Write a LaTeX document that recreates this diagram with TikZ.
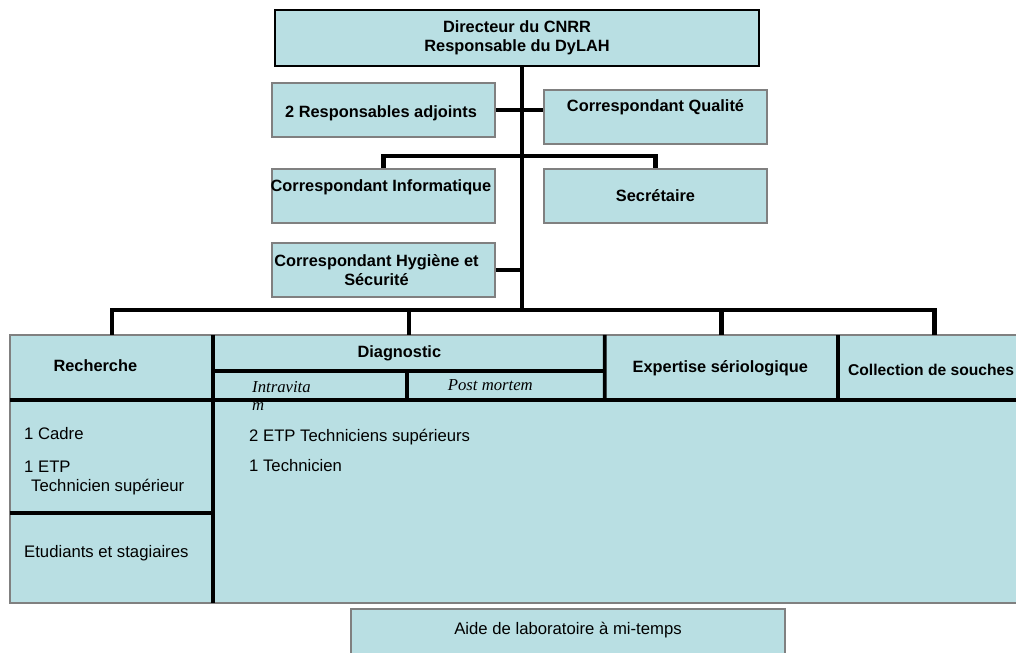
\documentclass[tikz,border=0pt]{standalone}
\usepackage{fontspec}
\setmainfont{Liberation Sans}
\newfontfamily\timesit{Liberation Serif}
\usepackage{tikz}
\usepackage{xcolor}
\usetikzlibrary{positioning,calc}
\definecolor{orgfill}{HTML}{B9DFE3}
\definecolor{orggray}{HTML}{808080}

\begin{document}
\begin{tikzpicture}[
  box/.style={draw=orggray, fill=orgfill, line width=1.1pt, minimum width=4.46cm, minimum height=1.08cm, inner sep=0pt},
  cell/.style={fill=orgfill, inner sep=0pt, anchor=north west},
  hd/.style={font=\fontsize{9.3}{10.8}\selectfont\bfseries, align=center},
  txt/.style={font=\fontsize{9.5}{11}\selectfont, align=left},
  sub/.style={font=\fontsize{9.5}{10.4}\selectfont\timesit\itshape, align=left},
  link/.style={line width=2.5pt, black},
  sep/.style={line width=2.2pt, black},
]
\useasboundingbox (0,0) rectangle (20.32,-13.06);

% director on top, trunk goes down to the bus at y=-6.2
\node[box, draw=black, minimum width=9.68cm, minimum height=1.12cm, hd] (dir) at (10.34,-0.76) {Directeur du CNRR\\Responsable du DyLAH};
\coordinate (bus) at (10.44,-6.2);

% staff boxes, left column x=7.67, right column x=13.11
\node[box] (adj)  at (7.67,-2.2)  {};
\node[box] (qual) at (13.11,-2.34) {};
\node[box] (info) at (7.67,-3.92) {};
\node[box] (secr) at (13.11,-3.92) {};
\node[box] (hyg)  at (7.67,-5.4)  {};

\node[hd, anchor=west] (adjt) at ([xshift=0.16cm,yshift=-0.06cm]adj.west) {2 Responsables adjoints};
\node[hd] (qualt) at ([yshift=0.2cm]qual.center) {Correspondant Qualit\'e};
\node[hd] (infot) at ([xshift=-0.05cm,yshift=0.18cm]info.center) {Correspondant Informatique};
\node[hd] (secrt) at (secr.center) {Secr\'etaire};
\node[hd] (hygt) at ([xshift=-0.14cm]hyg.center) {Correspondant Hygi\`ene et\\S\'ecurit\'e};

% connectors of the upper part
\draw[link] ([xshift=0.1cm]dir.south) -- (bus);
\draw[link] (adj.east) -- (adj.east -| qual.west);
\draw[link] (info.north) -- ++(0,0.24) -| (secr.north);
\draw[link] (hyg.east) -- (hyg.east -| bus);

% table of the units
\node[cell, minimum width=4.06cm, minimum height=1.3cm]  (rech)  at (0.2,-6.7)   {};
\node[cell, minimum width=7.82cm, minimum height=0.7cm]  (diag)  at (4.26,-6.7)  {};
\node[cell, minimum width=3.86cm, minimum height=0.6cm]  (intra) at (4.26,-7.4)  {};
\node[cell, minimum width=3.96cm, minimum height=0.6cm]  (post)  at (8.12,-7.4)  {};
\node[cell, minimum width=4.68cm, minimum height=1.3cm]  (expe)  at (12.08,-6.7) {};
\node[cell, minimum width=3.84cm, minimum height=1.3cm]  (coll)  at (16.76,-6.7) {};
\node[cell, minimum width=4.06cm, minimum height=2.24cm] (cad)   at (0.2,-8.0)   {};
\node[cell, minimum width=4.06cm, minimum height=1.8cm]  (etud)  at (0.2,-10.24) {};
\node[cell, minimum width=16.34cm, minimum height=4.04cm] (tech) at (4.26,-8.0)  {};
\draw[orggray, line width=1.1pt] (rech.north west) rectangle (tech.south east);

% bus and drops
\draw[link] (rech.north) -- (rech.north |- bus) -| (coll.north);
\foreach \c in {diag,expe} {
  \draw[link] (\c.north) -- (\c.north |- bus);
}

% separating lines
\draw[sep] (diag.north west) -- (tech.south west);
\draw[sep] (diag.south west) -- (diag.south east);
\draw[sep] (diag.north east) -- (post.south east);
\draw[sep] (intra.north east) -- (intra.south east);
\draw[sep] (cad.north west) -- (tech.north east);
\draw[sep] (cad.south west) -- (cad.south east);
\draw[sep] (coll.north west) -- (coll.south west);

% cell texts
\node[hd] (recht) at ([xshift=-0.33cm,yshift=0.05cm]rech.center) {Recherche};
\node[hd] (diagt) at ([xshift=-0.19cm]diag.center) {Diagnostic};
\node[sub, anchor=north west] (intrat) at (4.92,-7.5) {Intravita\\m};
\node[sub] (postt) at ([xshift=-0.3cm]post.center) {Post mortem};
\node[hd] (expet) at ([xshift=-0.02cm]expe.center) {Expertise s\'eriologique};
\node[hd, font=\fontsize{8.9}{10.8}\selectfont\bfseries, anchor=west, inner sep=1pt] (collt) at (16.92,-7.4) {Collection de souches};

\node[txt, anchor=west] (cadt) at (0.36,-8.68) {1 Cadre};
\node[txt, anchor=west] (etpt) at (0.36,-9.56) {1 ETP\\\hspace*{4pt}Technicien sup\'erieur};
\node[txt, anchor=west] (etudt) at (0.36,-11.06) {Etudiants et stagiaires};
\node[txt, anchor=west] (techa) at (4.86,-8.74) {2 ETP Techniciens sup\'erieurs};
\node[txt, anchor=west] (techb) at (4.86,-9.32) {1 Technicien};

% lab assistant below the table
\node[box, minimum width=8.68cm, minimum height=1.12cm] (aide) at (11.36,-12.74) {};
\node[txt] (aidet) at ([yshift=0.14cm]aide.center) {Aide de laboratoire \`a mi-temps};
\end{tikzpicture}
\end{document}
